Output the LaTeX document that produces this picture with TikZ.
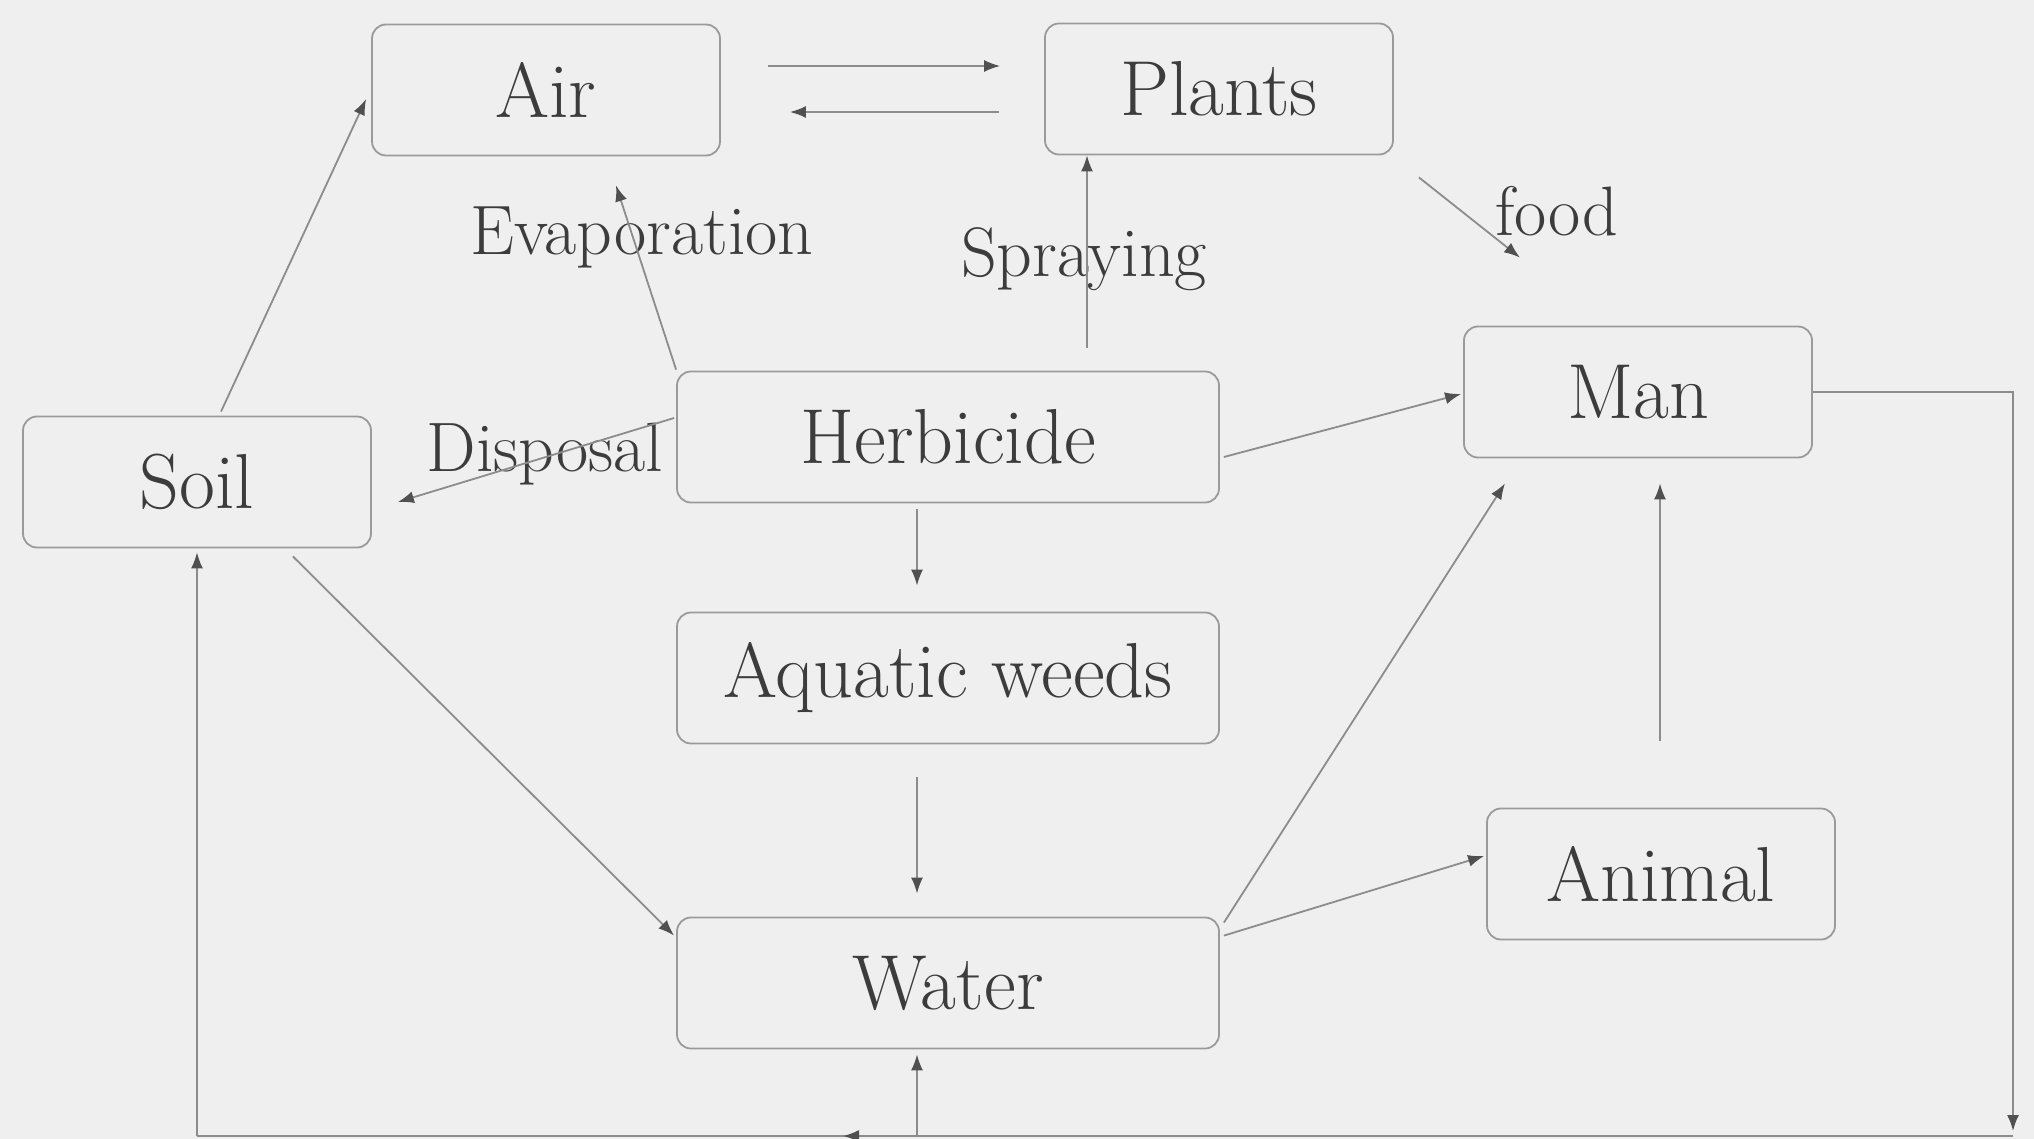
\documentclass[tikz,border=0pt]{standalone}
\usetikzlibrary{arrows.meta,calc}
\definecolor{bgc}{HTML}{EFEFEF}
\definecolor{edgec}{HTML}{8C8C8C}
\definecolor{boxc}{HTML}{9A9A9A}
\definecolor{tipc}{HTML}{505050}
\definecolor{txtc}{HTML}{3C3C3C}
\tikzset{
  box/.style={draw=boxc, line width=0.9pt, rounded corners=7pt, inner sep=0pt,
    minimum height=65.5pt, text=txtc, font=\fontsize{39}{43}\selectfont},
  smallbox/.style={box, minimum width=174pt},
  widebox/.style={box, minimum width=271pt},
  lbl/.style={text=txtc, inner sep=0pt, font=\fontsize{35}{40}\selectfont},
  line/.style={draw=edgec, line width=0.9pt},
  arr/.style={line, -{Latex[length=8pt,width=6pt,color=tipc]}}
}
\begin{document}
\begin{tikzpicture}[x=0.5pt,y=-0.5pt]
  % canvas
  \fill[bgc] (0,0) rectangle (2034,1139);
  \useasboundingbox (0,0) rectangle (2034,1139);

  % compartments
  \node[smallbox] (air)    at (546,90)  {Air};
  \node[smallbox] (plants) at (1219,89) {Plants};
  \node[smallbox] (soil)   at (197,482) {Soil};
  \node[widebox]  (herb)   at (948,437) {Herbicide};
  \node[smallbox] (man)    at (1638,392) {Man};
  \node[widebox]  (aq)     at (948,678) {Aquatic weeds};
  \node[smallbox] (animal) at (1661,874) {Animal};
  \node[widebox]  (water)  at (948,983) {Water};

  % pathway labels
  \node[lbl] (evap)  at (642,237)  {Evaporation};
  \node[lbl] (spray) at (1084,259) {Spraying};
  \node[lbl] (food)  at (1557,211) {food};
  \node[lbl] (disp)  at (545,454)  {Disposal};

  % exchange between air and plants
  \draw[arr] ($(air.east)+(47,-24)$) -- ($(plants.west)+(-44,-23)$);
  \draw[arr] ($(plants.west)+(-45,23)$) -- ($(air.east)+(69,22)$);

  % soil to air
  \draw[arr] ($(soil.north)+(24,-4)$) -- ($(air.west)+(-5,9)$);

  % herbicide pathways
  \draw[arr] ($(herb.north west)+(0,-1)$) -- ($(air.south)+(70,29)$);
  \draw[arr] ($(herb.north)+(139,-23)$) -- ($(plants.south)+(-132,0)$);
  \draw[arr] ($(herb.west)+(-2,-19)$) -- ($(soil.east)+(26,20)$);
  \draw[arr] ($(herb.east)+(4,20)$) -- ($(man.west)+(-2,2)$);
  \draw[arr] ($(herb.south)+(-31,6)$) -- ($(aq.north)+(-31,-26)$);

  % plants to man
  \draw[arr] ($(plants.south east)+(25,22)$) -- ($(man.north)+(-118,-68)$);

  % aquatic weeds, soil to water
  \draw[arr] ($(aq.south)+(-31,33)$) -- ($(water.north)+(-31,-23)$);
  \draw[arr] ($(soil.south east)+(-79,8)$) -- ($(water.north west)+(-2,19)$);

  % water to man and animal
  \draw[arr] ($(water.north east)+(4,6)$) -- ($(man.south)+(-133,25)$);
  \draw[arr] ($(water.north east)+(4,19)$) -- ($(animal.west)+(-2,-18)$);
  \draw[arr] ($(animal.north)+(-1,-67)$) -- ($(man.south)+(22,25)$);

  % return loop along the bottom
  \coordinate (rdown) at (2013,1131);
  \coordinate (bR) at (2013,1136);
  \coordinate (bMid) at (843,1136);
  \coordinate (bW) at (917,1136);
  \coordinate (bL) at (197,1136);
  \draw[arr] (man.east) -| (rdown);
  \draw[line] (bR) -- (bL);
  \draw[arr] (bR) -- (bMid);
  \draw[arr] (bL) -- ($(soil.south)+(0,4)$);
  \draw[arr] (bW) -- ($(water.south)+(-31,5)$);
\end{tikzpicture}
\end{document}
